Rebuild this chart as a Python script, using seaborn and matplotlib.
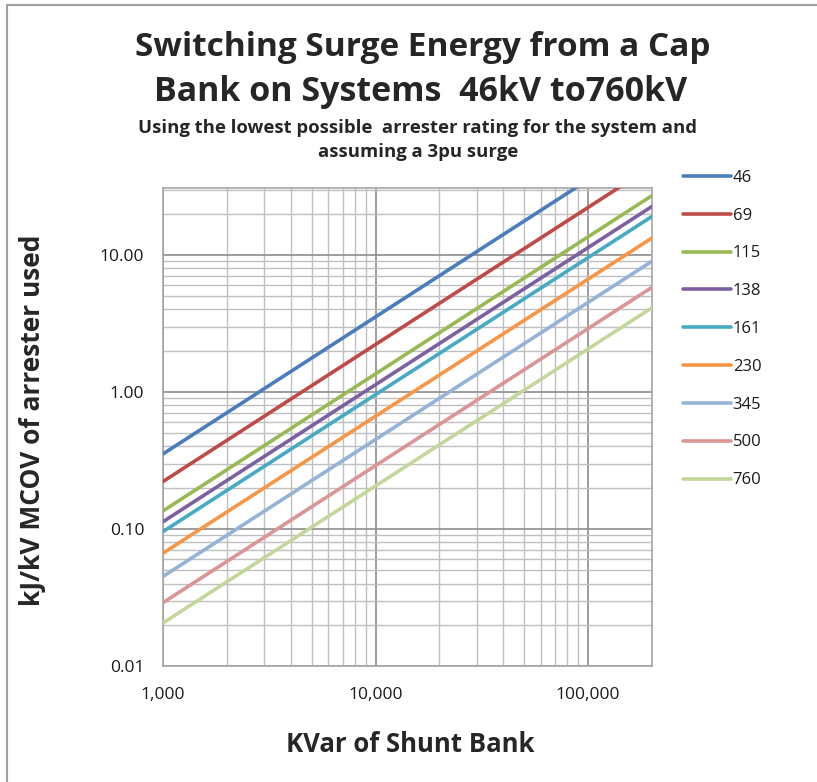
import matplotlib
matplotlib.use("Agg")
import matplotlib.pyplot as plt
from matplotlib.ticker import FixedLocator, FuncFormatter, LogLocator, NullFormatter
from matplotlib.lines import Line2D
import numpy as np
import pandas as pd
import seaborn as sns

# Shunt bank size (kvar) at the two ends of each line
kvar = [1000, 200000]

# System voltage classes (kV)
systems = ["46", "69", "115", "138", "161", "230", "345", "500", "760"]

# Energy (kJ per kV of arrester MCOV) at 1,000 and 200,000 kvar
e_46 = [0.353, 70.6]
e_69 = [0.222, 44.4]
e_115 = [0.1355, 27.1]
e_138 = [0.113, 22.6]
e_161 = [0.0957, 19.1]
e_230 = [0.0666, 13.3]
e_345 = [0.045, 9.0]
e_500 = [0.029, 5.8]
e_760 = [0.0206, 4.12]

colors = ["#4A7EBB", "#BE4B48", "#98B954", "#7D60A0", "#46AAC5",
          "#F79646", "#95B3D7", "#D99694", "#C3D69B"]

series = [e_46, e_69, e_115, e_138, e_161, e_230, e_345, e_500, e_760]
df = pd.DataFrame({
    "kvar": np.tile(kvar, len(systems)),
    "energy": np.concatenate(series),
    "system": np.repeat(systems, len(kvar)),
})

sns.set_style("white")
plt.rcParams["font.family"] = ["Open Sans", "DejaVu Sans"]

W, H = 817, 782
fig = plt.figure(figsize=(W / 100, H / 100), dpi=100)
fig.patch.set_facecolor("white")

x0, x1, y0, y1 = 163, 652, 188, 666
ax = fig.add_axes([x0 / W, 1 - y1 / H, (x1 - x0) / W, (y1 - y0) / H])

sns.lineplot(data=df, x="kvar", y="energy", hue="system", hue_order=systems,
             palette=colors, linewidth=2.6, legend=False, ax=ax, zorder=3)

ax.set_xscale("log")
ax.set_yscale("log")
ax.set_xlim(1000, 200000)
ax.set_ylim(0.01, 30.8)

# Grid: major lines darker, minor lighter
ax.xaxis.set_major_locator(FixedLocator([1000, 10000, 100000]))
ax.xaxis.set_minor_locator(LogLocator(base=10, subs=np.arange(2, 10)))
ax.yaxis.set_major_locator(FixedLocator([0.01, 0.1, 1, 10]))
ax.yaxis.set_minor_locator(LogLocator(base=10, subs=np.arange(2, 10)))
ax.xaxis.set_minor_formatter(NullFormatter())
ax.yaxis.set_minor_formatter(NullFormatter())
ax.xaxis.set_major_formatter(FuncFormatter(lambda v, p: f"{v:,.0f}"))
ax.yaxis.set_major_formatter(FuncFormatter(lambda v, p: f"{v:.2f}"))

ax.grid(True, which="major", color="#8C8C8C", linewidth=1.2, zorder=1)
ax.grid(True, which="minor", color="#BFBFBF", linewidth=1.0, zorder=1)
ax.set_axisbelow(True)

for s in ax.spines.values():
    s.set_color("#A6A6A6")
    s.set_linewidth(1.2)

ax.tick_params(axis="both", which="major", width=1.2, color="#8C8C8C",
               labelsize=12.5, labelcolor="#1a1a1a", direction="out")
ax.tick_params(axis="x", which="major", length=4.3, pad=11)
ax.tick_params(axis="y", which="major", length=11.5, pad=2)
ax.tick_params(axis="both", which="minor", length=0)

ax.set_xlabel("")
ax.set_ylabel("")

# Legend to the right of the plot
handles = [Line2D([0], [0], color=c, linewidth=2.6) for c in colors]
leg = fig.legend(handles, systems, loc="upper left",
                 bbox_to_anchor=(676 / W, 1 - 163 / H), frameon=False,
                 fontsize=12, handlelength=2.9, handletextpad=0.1,
                 labelspacing=1.31, borderaxespad=0)
for t in leg.get_texts():
    t.set_color("#1a1a1a")

# Titles and axis titles
fig.text(423 / W, 1 - 47 / H, "Switching Surge Energy from a Cap",
         ha="center", va="center", fontsize=24, fontweight="bold")
fig.text(421 / W, 1 - 92 / H, "Bank on Systems  46kV to760kV",
         ha="center", va="center", fontsize=24.5, fontweight="bold")
fig.text(418 / W, 1 - 128 / H,
         "Using the lowest possible  arrester rating for the system and",
         ha="center", va="center", fontsize=13.3, fontweight="bold")
fig.text(418 / W, 1 - 152 / H, "assuming a 3pu surge",
         ha="center", va="center", fontsize=13.3, fontweight="bold")
fig.text(33 / W, 1 - 420 / H, "kJ/kV MCOV of arrester used", rotation=90,
         ha="center", va="center", fontsize=19, fontweight="bold")
fig.text(410 / W, 1 - 745 / H, "KVar of Shunt Bank",
         ha="center", va="center", fontsize=18.5, fontweight="bold")

# Chart area border (top and left edges)
fig.add_artist(Line2D([7 / W, 7 / W], [0, 1 - 5 / H], color="#A0A0A0", linewidth=1.5,
                      transform=fig.transFigure))
fig.add_artist(Line2D([7 / W, 1], [1 - 5 / H, 1 - 5 / H], color="#A0A0A0", linewidth=1.5,
                      transform=fig.transFigure))

fig.savefig("out.png", dpi=100, facecolor="white")
